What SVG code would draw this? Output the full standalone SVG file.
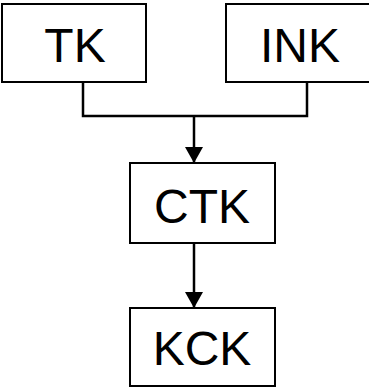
<svg xmlns="http://www.w3.org/2000/svg" width="369" height="388" viewBox="0 0 369 388">
<style>
.box{fill:#fff;stroke:#000;stroke-width:2}
.lbl{font-family:"Liberation Sans",Arial,sans-serif;font-size:48px;fill:#000;text-anchor:middle}
.conn{fill:none;stroke:#000;stroke-width:2.5}
</style>
<defs>
<marker id="arr" markerUnits="userSpaceOnUse" markerWidth="16" markerHeight="18" refX="16" refY="9" orient="auto">
<path d="M0,0 L16,9 L0,18 Z" fill="#000"/>
</marker>
</defs>
<rect width="369" height="388" fill="#fff"/>
<g id="connectors">
<path class="conn" d="M83,82 V116 H307 V82"/>
<path class="conn" d="M194,116 V163" marker-end="url(#arr)"/>
<path class="conn" d="M194,243 V308" marker-end="url(#arr)"/>
</g>
<g id="TK">
<rect class="box" x="2" y="4" width="144" height="78"/>
<text class="lbl" x="75" y="62">TK</text>
</g>
<g id="INK">
<rect class="box" x="226" y="4" width="146" height="78"/>
<text class="lbl" x="300" y="62">INK</text>
</g>
<g id="CTK">
<rect class="box" x="130" y="163" width="145" height="80"/>
<text class="lbl" x="202" y="223">CTK</text>
</g>
<g id="KCK">
<rect class="box" x="130" y="308" width="145" height="78"/>
<text class="lbl" x="202" y="365">KCK</text>
</g>
</svg>
